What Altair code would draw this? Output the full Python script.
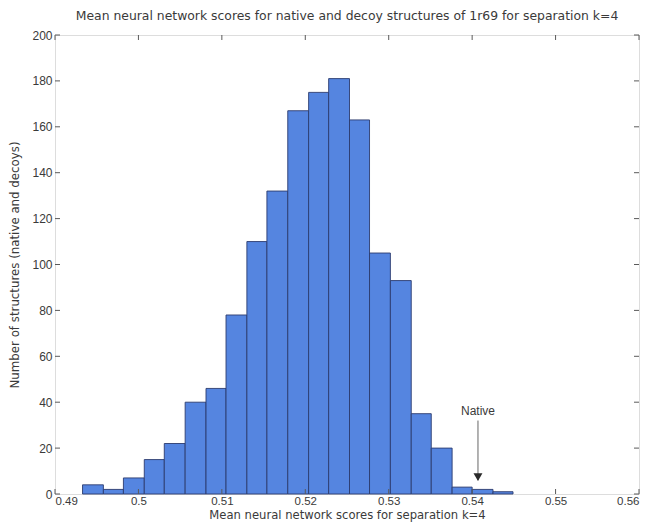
import altair as alt
import pandas as pd

# Histogram bins (lower / upper edges) and counts of structures per bin
bin_lo = [0.4933, 0.4958, 0.4982, 0.5007, 0.5031, 0.5056, 0.5081, 0.5105,
          0.5130, 0.5154, 0.5179, 0.5204, 0.5228, 0.5253, 0.5277, 0.5302,
          0.5327, 0.5351, 0.5376, 0.5400, 0.5425]
bin_hi = [0.4958, 0.4982, 0.5007, 0.5031, 0.5056, 0.5081, 0.5105, 0.5130,
          0.5154, 0.5179, 0.5204, 0.5228, 0.5253, 0.5277, 0.5302, 0.5327,
          0.5351, 0.5376, 0.5400, 0.5425, 0.5449]
counts = [4, 2, 7, 15, 22, 40, 46, 78, 110, 132, 167, 175, 181, 163, 105, 93,
          35, 20, 3, 2, 1]

# Axis ticks
x_ticks = [0.49, 0.50, 0.51, 0.52, 0.53, 0.54, 0.55, 0.56]
y_ticks = [0, 20, 40, 60, 80, 100, 120, 140, 160, 180, 200]

# Native structure marker
native_score = [0.5407]
native_label = ["Native"]
arrow_top = [32]
arrow_tip = [6]
label_y = [36]

W, H = 584, 459
FONT = "Liberation Sans"
WIDE = "DejaVu Sans"
TXT = "#3a3a3a"
AX = "#5a5a5a"

xs = alt.Scale(domain=[0.49, 0.56], nice=False, zero=False)
ys = alt.Scale(domain=[0, 200], nice=False)

hist = pd.DataFrame({"lo": bin_lo, "hi": bin_hi, "n": counts})
xt = pd.DataFrame({"v": x_ticks})
yt = pd.DataFrame({"v": y_ticks})
nat = pd.DataFrame({"x": native_score, "t": native_label, "y1": arrow_top,
                    "y2": arrow_tip, "ly": label_y})

axis_text = dict(labelFont=FONT, labelColor=TXT,
                 titleFont=WIDE, titleFontWeight="normal",
                 titleColor=TXT, domain=False, grid=False, tickSize=0)

bars = alt.Chart(hist).mark_rect(
    fill="#5585e0", stroke="#2b3b6e", strokeWidth=0.9
).encode(
    x=alt.X("lo:Q", scale=xs,
            axis=alt.Axis(values=x_ticks, format="~g", labelPadding=1,
                          labelFontSize=11.5,
                          title="Mean neural network scores for separation k=4",
                          titleFontSize=11.6, titlePadding=3, **axis_text)),
    x2="hi:Q",
    y=alt.Y("n:Q", scale=ys,
            axis=alt.Axis(values=y_ticks, labelPadding=3, labelFontSize=12,
                          title="Number of structures (native and decoys)",
                          titleFontSize=11.8, titlePadding=11, **axis_text)),
    y2=alt.datum(0),
)

# Inward tick marks on all four sides of the frame
tick_style = dict(color=AX, strokeWidth=1)
t_bottom = alt.Chart(xt).mark_rule(**tick_style).encode(
    x=alt.X("v:Q", scale=xs), y=alt.value(H), y2=alt.value(H - 5))
t_top = alt.Chart(xt).mark_rule(**tick_style).encode(
    x=alt.X("v:Q", scale=xs), y=alt.value(0), y2=alt.value(5))
t_left = alt.Chart(yt).mark_rule(**tick_style).encode(
    y=alt.Y("v:Q", scale=ys), x=alt.value(0), x2=alt.value(5))
t_right = alt.Chart(yt).mark_rule(**tick_style).encode(
    y=alt.Y("v:Q", scale=ys), x=alt.value(W), x2=alt.value(W - 5))

arrow = alt.Chart(nat).mark_rule(color="#666666", strokeWidth=1).encode(
    x=alt.X("x:Q", scale=xs), y=alt.Y("y1:Q", scale=ys), y2="y2:Q")
head = alt.Chart(nat).mark_point(
    shape="triangle-down", filled=True, color="#2a2a2a", size=80, opacity=1
).encode(x=alt.X("x:Q", scale=xs), y=alt.Y("y2:Q", scale=ys), yOffset=alt.value(-3))
label = alt.Chart(nat).mark_text(
    font=FONT, fontSize=12, color=TXT, baseline="middle"
).encode(x=alt.X("x:Q", scale=xs), y=alt.Y("ly:Q", scale=ys), text="t:N")

chart = alt.layer(bars, t_bottom, t_top, t_left, t_right, arrow, head, label).properties(
    width=W, height=H,
    title=alt.Title("Mean neural network scores for native and decoy structures of 1r69 for separation k=4",
                    font=WIDE, fontSize=12.4, fontWeight="normal", color=TXT, offset=7),
    autosize=alt.AutoSizeParams(type="none"),
    padding={"left": 55, "top": 35, "right": 12, "bottom": 36},
).configure_view(
    stroke=AX, strokeWidth=1
).configure(background="white")

chart.save("out.html", embed_options={"renderer": "svg", "actions": False})
